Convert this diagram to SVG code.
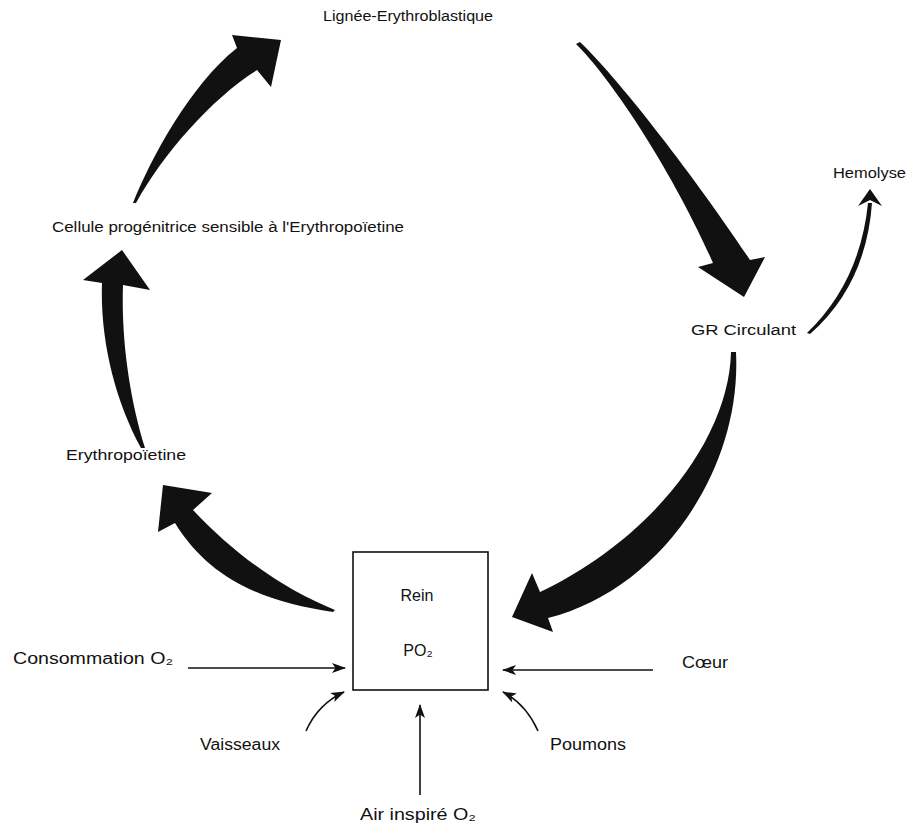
<svg xmlns="http://www.w3.org/2000/svg" width="922" height="825" viewBox="0 0 922 825">
  <style>
    .lbl { font-family: "Liberation Sans", Arial, sans-serif; fill: #111; }
    .top { font-size: 14px; }
    .low { font-size: 16px; }
    .big { fill: #111; stroke: none; }
    .thin { fill: none; stroke: #111; stroke-width: 1.6; }
    .box { fill: #fff; stroke: #111; stroke-width: 1.6; }
  </style>
  <defs>
    <marker id="head" markerUnits="userSpaceOnUse" markerWidth="16" markerHeight="12" refX="13" refY="5" orient="auto">
      <path d="M0,0 L14,5 L0,10 L3.5,5 Z" fill="#111"/>
    </marker>
  </defs>
  <rect width="922" height="825" fill="#fff"/>

  <!-- cycle arrows and inputs -->
  <g id="connectors">
    <!-- progenitor cell to erythroblastic line -->
    <path class="big" d="M133,203 C150,160 190,85 237,48 L232,35 L281,40 L271,87 L257,70 C212,98 162,155 136,203 Z"/>
    <!-- erythroblastic line to circulating red cells -->
    <path class="big" d="M576,44 C610,77 672,170 713,263 L698,267 L744,297 L765,257 L750,260 C690,170 615,75 580,42 Z"/>
    <!-- circulating red cells to kidney -->
    <path class="big" d="M731,352 C729,440 650,540 540,592 L532,573 L512,617 L553,632 L548,618 C660,590 742,470 736,352 Z"/>
    <!-- kidney to erythropoietin -->
    <path class="big" d="M335,610 C285,590 235,555 193,510 L212,493 L163,485 L158,532 L175,523 C210,580 265,602 333,612 Z"/>
    <!-- erythropoietin to progenitor cell -->
    <path class="big" d="M141,448 C115,400 100,340 102,283 L83,280 L122,250 L150,290 L123,285 C121,340 130,400 145,448 Z"/>
    <!-- circulating red cells to hemolysis -->
    <path class="big" d="M807,333 Q860,282 868,203 L872,203 Q866,285 810,334 Z"/>
    <path class="big" d="M870,189 L882,206 L870,200 L858,206 Z"/>
    <!-- inputs to the kidney -->
    <path class="thin" d="M188,668 L345,668" marker-end="url(#head)"/>
    <path class="thin" d="M653,670 L503,670" marker-end="url(#head)"/>
    <path class="thin" d="M420,795 L420,705" marker-end="url(#head)"/>
    <path class="thin" d="M306,731 Q318,704 344,692" marker-end="url(#head)"/>
    <path class="thin" d="M538,731 Q526,704 503,692" marker-end="url(#head)"/>
  </g>

  <g id="node-lignee">
    <text class="lbl top" x="323" y="21" textLength="170" lengthAdjust="spacingAndGlyphs">Lignée-Erythroblastique</text>
  </g>
  <g id="node-cellule">
    <text class="lbl top" x="52" y="232" textLength="352" lengthAdjust="spacingAndGlyphs">Cellule progénitrice sensible à l'Erythropoïetine</text>
  </g>
  <g id="node-erythropoietine">
    <text class="lbl top" x="66" y="460" textLength="120" lengthAdjust="spacingAndGlyphs">Erythropoïetine</text>
  </g>
  <g id="node-gr">
    <text class="lbl top" x="691" y="335" textLength="105" lengthAdjust="spacingAndGlyphs">GR Circulant</text>
  </g>
  <g id="node-hemolyse">
    <text class="lbl top" x="833" y="178" textLength="73" lengthAdjust="spacingAndGlyphs">Hemolyse</text>
  </g>
  <g id="node-rein">
    <rect class="box" x="353" y="552" width="135" height="138"/>
    <text class="lbl low" x="417" y="601" text-anchor="middle">Rein</text>
    <text class="lbl low" x="418" y="656" text-anchor="middle">PO₂</text>
  </g>
  <g id="node-consommation">
    <text class="lbl low" x="13" y="664" textLength="160" lengthAdjust="spacingAndGlyphs">Consommation O₂</text>
  </g>
  <g id="node-coeur">
    <text class="lbl low" x="682" y="668" textLength="46" lengthAdjust="spacingAndGlyphs">Cœur</text>
  </g>
  <g id="node-vaisseaux">
    <text class="lbl low" x="200" y="750" textLength="80" lengthAdjust="spacingAndGlyphs">Vaisseaux</text>
  </g>
  <g id="node-poumons">
    <text class="lbl low" x="550" y="750" textLength="76" lengthAdjust="spacingAndGlyphs">Poumons</text>
  </g>
  <g id="node-air">
    <text class="lbl low" x="360" y="820" textLength="116" lengthAdjust="spacingAndGlyphs">Air inspiré O₂</text>
  </g>
</svg>
